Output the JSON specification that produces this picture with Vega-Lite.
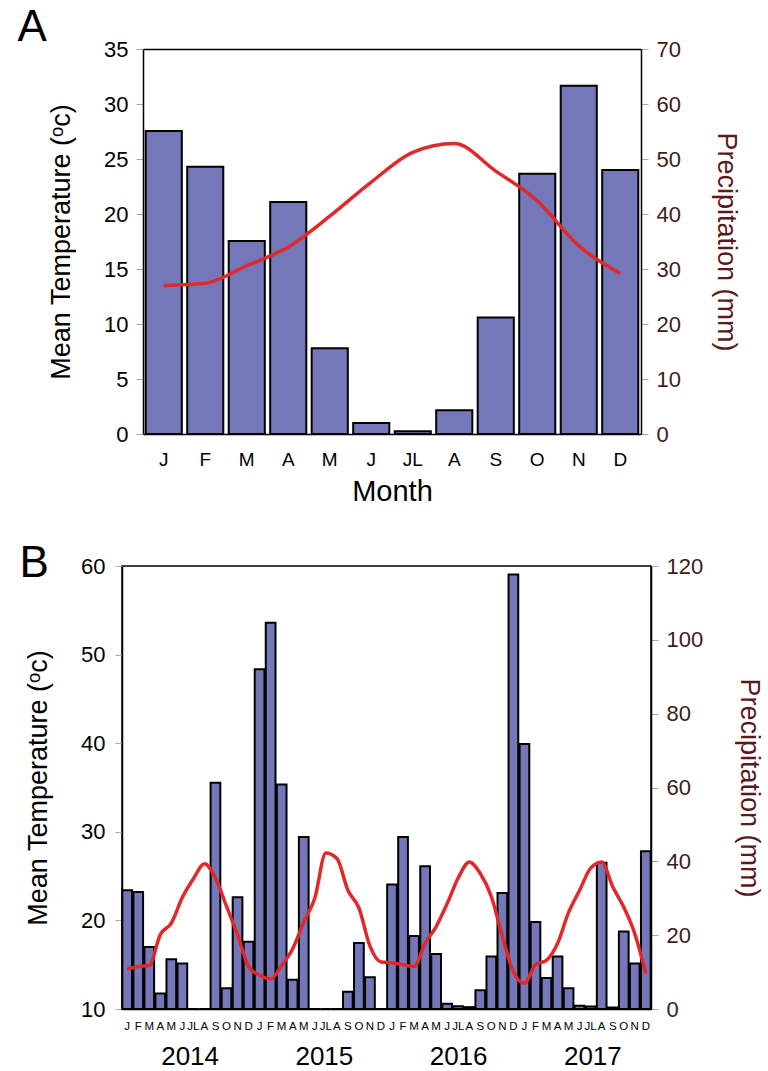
{
  "$schema": "https://vega.github.io/schema/vega-lite/v6.json",
  "padding": {"left": 17, "top": 6, "right": 0, "bottom": 0},
  "background": "white",
  "spacing": 35,
  "config": {
    "font": "Liberation Sans",
    "view": {"stroke": "black", "strokeWidth": 1.5},
    "axis": {"domainColor": "black", "domainWidth": 1.5, "tickColor": "#aaaaaa", "tickSize": 7, "grid": false, "labelColor": "black", "titleColor": "black", "titleFontWeight": "normal", "labelFont": "Liberation Sans", "titleFont": "Liberation Sans"},
    "title": {"fontWeight": "normal", "fontSize": 44, "anchor": "start", "frame": "bounds", "font": "Liberation Sans", "color": "black"}
  },
  "vconcat": [
    {
      "width": 519,
      "height": 385,
      "view": {"stroke": null},
      "title": {"text": "A", "dx": -30, "offset": -47, "baseline": "alphabetic"},
      "data": {"values": [
        {"m": 1, "precip": 55.1, "temp": 13.5},
        {"m": 2, "precip": 48.6, "temp": 13.7},
        {"m": 3, "precip": 35.1, "temp": 15.3},
        {"m": 4, "precip": 42.2, "temp": 17.0},
        {"m": 5, "precip": 15.6, "temp": 19.8},
        {"m": 6, "precip": 2.0, "temp": 22.9},
        {"m": 7, "precip": 0.5, "temp": 25.6},
        {"m": 8, "precip": 4.3, "temp": 26.4},
        {"m": 9, "precip": 21.2, "temp": 23.9},
        {"m": 10, "precip": 47.3, "temp": 21.2},
        {"m": 11, "precip": 63.3, "temp": 17.1},
        {"m": 12, "precip": 48.0, "temp": 14.6}
      ]},
      "layer": [
        {
          "layer": [
            {
              "mark": {"type": "bar", "fill": "#7478b8", "stroke": "black", "strokeWidth": 2},
              "encoding": {
                "x": {"field": "m", "type": "ordinal", "scale": {"range": [21, 519], "paddingInner": 0.13, "paddingOuter": 0.065},
                  "axis": {"labelExpr": "['J','F','M','A','M','J','JL','A','S','O','N','D'][datum.value-1]", "labelAngle": 0, "ticks": false, "labelFontSize": 19, "labelPadding": 16, "title": "Month", "titleFontSize": 29, "titlePadding": 8}},
                "y": {"field": "precip", "type": "quantitative", "scale": {"domain": [0, 70], "nice": false},
                  "axis": {"orient": "right", "values": [0, 10, 20, 30, 40, 50, 60, 70], "title": "Precipitation (mm)", "labelFontSize": 22, "titleFontSize": 27, "labelColor": "#3d1c1c", "titleColor": "#5a1a1a", "labelPadding": 8, "titlePadding": 31}}
              }
            },
            {
              "mark": {"type": "line", "color": "#e2282b", "strokeWidth": 3.5, "interpolate": "monotone"},
              "encoding": {
                "x": {"field": "m", "type": "ordinal"},
                "y": {"field": "temp", "type": "quantitative", "scale": {"domain": [0, 35], "nice": false},
                  "axis": {"orient": "left", "offset": -21, "values": [0, 5, 10, 15, 20, 25, 30, 35], "title": "Mean Temperature (ᵒc)", "labelFontSize": 22, "titleFontSize": 27, "labelPadding": 8, "titlePadding": 28}}
              }
            }
          ],
          "resolve": {"scale": {"y": "independent"}}
        },
        {
          "mark": {"type": "rule", "opacity": 0},
          "encoding": {
            "x": {"field": "m", "type": "ordinal", "scale": {"range": [21, 519], "paddingInner": 0.13, "paddingOuter": 0.065},
              "axis": {"orient": "top", "labels": false, "ticks": false, "title": null, "domain": true}}
          }
        }
      ],
      "resolve": {"scale": {"x": "independent", "y": "independent"}}
    },
    {
      "width": 529,
      "height": 443,
      "title": {"text": "B", "dx": -5, "offset": -66, "baseline": "alphabetic"},
      "layer": [
        {
          "data": {"values": [
            {"i": 1, "precip": 32.2, "temp": 14.5},
            {"i": 2, "precip": 31.7, "temp": 14.8},
            {"i": 3, "precip": 16.8, "temp": 14.9},
            {"i": 4, "precip": 4.2, "temp": 18.4},
            {"i": 5, "precip": 13.5, "temp": 19.7},
            {"i": 6, "precip": 12.3, "temp": 22.6},
            {"i": 7, "precip": 0, "temp": 24.7},
            {"i": 8, "precip": 0, "temp": 26.4},
            {"i": 9, "precip": 61.3, "temp": 24.8},
            {"i": 10, "precip": 5.6, "temp": 21.6},
            {"i": 11, "precip": 30.3, "temp": 18.4},
            {"i": 12, "precip": 18.2, "temp": 14.8},
            {"i": 13, "precip": 92.0, "temp": 13.8},
            {"i": 14, "precip": 104.6, "temp": 13.4},
            {"i": 15, "precip": 60.8, "temp": 14.9},
            {"i": 16, "precip": 7.9, "temp": 16.8},
            {"i": 17, "precip": 46.6, "temp": 19.8},
            {"i": 18, "precip": 0, "temp": 22.5},
            {"i": 19, "precip": 0, "temp": 27.6},
            {"i": 20, "precip": 0, "temp": 27.0},
            {"i": 21, "precip": 4.7, "temp": 23.4},
            {"i": 22, "precip": 17.9, "temp": 21.4},
            {"i": 23, "precip": 8.6, "temp": 17.1},
            {"i": 24, "precip": 0, "temp": 15.3},
            {"i": 25, "precip": 33.7, "temp": 15.2},
            {"i": 26, "precip": 46.6, "temp": 15.0},
            {"i": 27, "precip": 19.8, "temp": 14.8},
            {"i": 28, "precip": 38.7, "temp": 17.4},
            {"i": 29, "precip": 14.9, "temp": 19.3},
            {"i": 30, "precip": 1.4, "temp": 21.9},
            {"i": 31, "precip": 0.75, "temp": 24.8},
            {"i": 32, "precip": 0.5, "temp": 26.6},
            {"i": 33, "precip": 5.1, "temp": 25.3},
            {"i": 34, "precip": 14.2, "temp": 22.7},
            {"i": 35, "precip": 31.4, "temp": 18.2},
            {"i": 36, "precip": 117.7, "temp": 14.2},
            {"i": 37, "precip": 71.8, "temp": 12.9},
            {"i": 38, "precip": 23.6, "temp": 15.0},
            {"i": 39, "precip": 8.4, "temp": 15.5},
            {"i": 40, "precip": 14.2, "temp": 17.4},
            {"i": 41, "precip": 5.6, "temp": 20.9},
            {"i": 42, "precip": 0.9, "temp": 23.4},
            {"i": 43, "precip": 0.7, "temp": 25.9},
            {"i": 44, "precip": 39.6, "temp": 26.6},
            {"i": 45, "precip": 0.4, "temp": 23.8},
            {"i": 46, "precip": 21.0, "temp": 21.5},
            {"i": 47, "precip": 12.3, "temp": 18.5},
            {"i": 48, "precip": 42.7, "temp": 14.0}
          ]},
          "layer": [
            {
              "mark": {"type": "bar", "fill": "#7478b8", "stroke": "black", "strokeWidth": 2},
              "encoding": {
                "x": {"field": "i", "type": "ordinal", "scale": {"paddingInner": 0.12, "paddingOuter": 0.03},
                  "axis": {"labelExpr": "['J','F','M','A','M','J','JL','A','S','O','N','D'][(datum.value-1)%12]", "labelAngle": 0, "ticks": false, "labelFontSize": 11.5, "labelPadding": 11, "labelOverlap": false, "title": null}},
                "y": {"field": "precip", "type": "quantitative", "scale": {"domain": [0, 120], "nice": false},
                  "axis": {"orient": "right", "values": [0, 20, 40, 60, 80, 100, 120], "title": "Precipitation (mm)", "labelFontSize": 22, "titleFontSize": 27, "labelColor": "#3d1c1c", "titleColor": "#5a1a1a", "labelPadding": 8, "titlePadding": 32}}
              }
            },
            {
              "mark": {"type": "line", "color": "#e2282b", "strokeWidth": 3.5, "interpolate": "monotone"},
              "encoding": {
                "x": {"field": "i", "type": "ordinal"},
                "y": {"field": "temp", "type": "quantitative", "scale": {"domain": [10, 60], "nice": false},
                  "axis": {"orient": "left", "values": [10, 20, 30, 40, 50, 60], "title": "Mean Temperature (ᵒc)", "labelFontSize": 22, "titleFontSize": 27, "labelPadding": 10, "titlePadding": 28}}
              }
            }
          ],
          "resolve": {"scale": {"y": "independent"}}
        },
        {
          "data": {"values": [{"year": "2014"}, {"year": "2015"}, {"year": "2016"}, {"year": "2017"}]},
          "mark": {"type": "rule", "opacity": 0},
          "encoding": {
            "x": {"field": "year", "type": "nominal", "scale": {"type": "band", "range": [1, 538], "paddingInner": 0, "paddingOuter": 0},
              "axis": {"orient": "bottom", "offset": 34, "domain": false, "ticks": false, "labelFontSize": 26, "labelAngle": 0, "labelPadding": 0, "title": null}}
          }
        }
      ],
      "resolve": {"scale": {"x": "independent", "y": "independent"}}
    }
  ]
}
